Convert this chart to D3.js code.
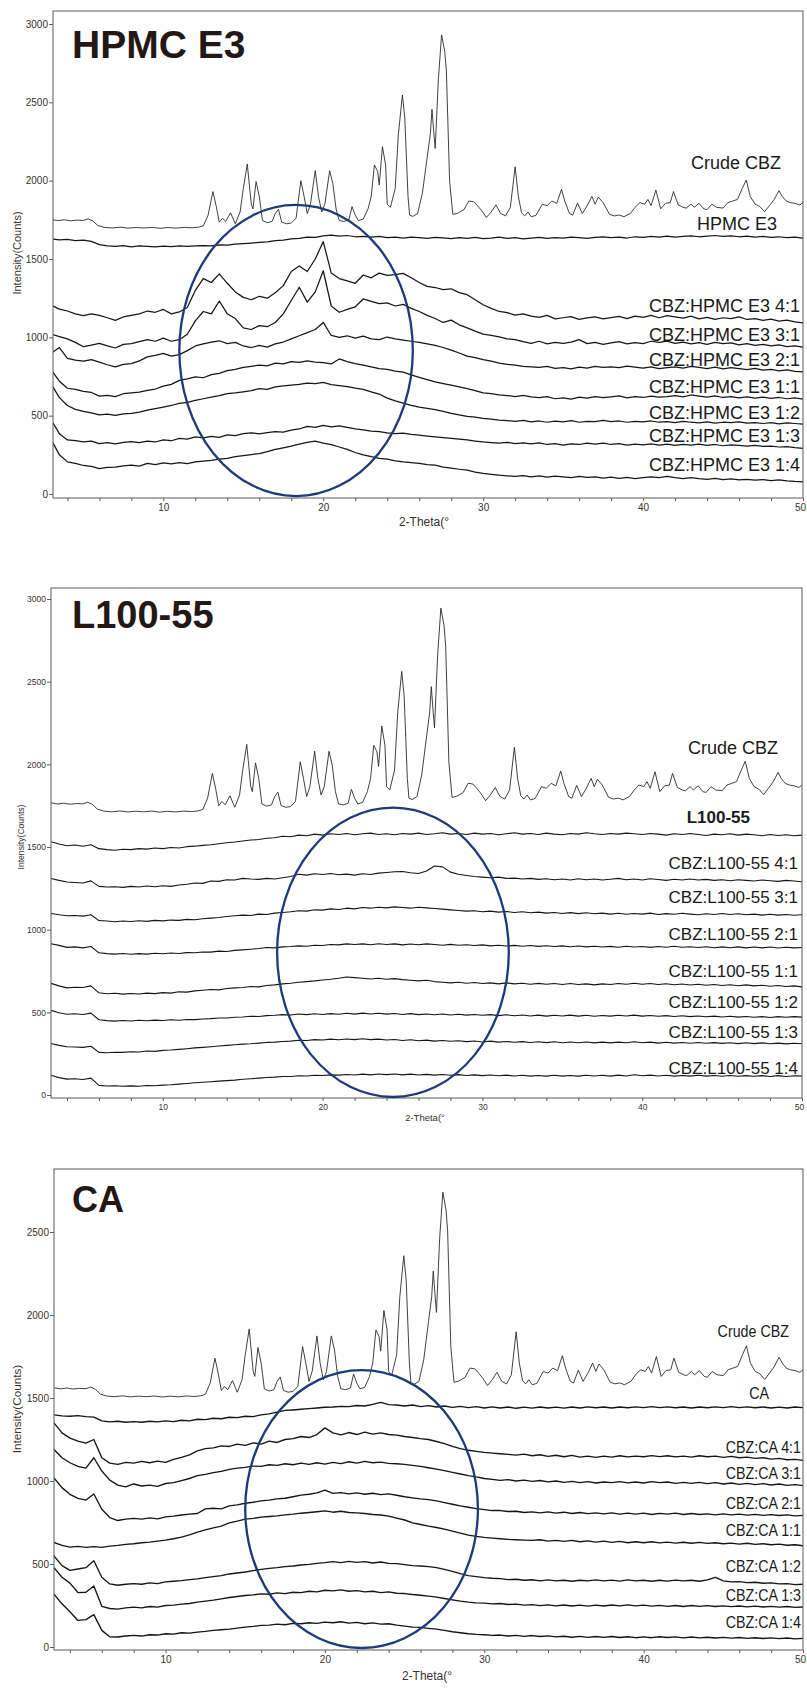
<!DOCTYPE html>
<html>
<head>
<meta charset="utf-8">
<script src="https://cdn.jsdelivr.net/npm/d3@7/dist/d3.min.js"></script>
<style>
  body { margin: 0; background: #fff; }
  svg { display: block; }
</style>
</head>
<body>
<div id="chart"></div>
<script>
// 2-theta sampling used for the amorphous traces (0.5 deg step)
const twoTheta = [
  3, 3.5, 4, 4.5, 5, 5.5, 6, 6.5, 7, 7.5, 8, 8.5, 9, 9.5, 10, 10.5, 11, 11.5, 12, 12.5,
  13, 13.5, 14, 14.5, 15, 15.5, 16, 16.5, 17, 17.5, 18, 18.5, 19, 19.5, 20, 20.5, 21, 21.5, 22, 22.5,
  23, 23.5, 24, 24.5, 25, 25.5, 26, 26.5, 27, 27.5, 28, 28.5, 29, 29.5, 30, 30.5, 31, 31.5, 32, 32.5,
  33, 33.5, 34, 34.5, 35, 35.5, 36, 36.5, 37, 37.5, 38, 38.5, 39, 39.5, 40, 40.5, 41, 41.5, 42, 42.5,
  43, 43.5, 44, 44.5, 45, 45.5, 46, 46.5, 47, 47.5, 48, 48.5, 49, 49.5, 50
];

// crude carbamazepine scan [2theta, counts], same scan in the three panels
const crudeCBZ = [
  [3.0,1752],[3.4,1745],[3.8,1750],[4.2,1744],[4.6,1748],[5.0,1746],[5.3,1756],[5.6,1742],[5.9,1714],
  [6.3,1702],[6.8,1698],[7.3,1703],[7.8,1697],[8.3,1701],[8.8,1698],[9.3,1702],[9.8,1696],[10.3,1701],
  [10.8,1697],[11.3,1702],[11.8,1699],[12.2,1703],[12.5,1712],[12.8,1780],[13.1,1930],[13.3,1840],
  [13.5,1735],[13.7,1760],[13.9,1740],[14.2,1795],[14.5,1725],[14.8,1800],[15.0,1950],[15.25,2106],
  [15.5,1850],[15.6,1820],[15.8,1994],[16.0,1900],[16.2,1745],[16.5,1732],[16.8,1740],[17.0,1790],
  [17.2,1817],[17.4,1735],[17.7,1725],[18.0,1730],[18.3,1760],[18.6,2000],[18.8,1900],[19.0,1790],
  [19.2,1850],[19.5,2064],[19.7,1900],[19.9,1800],[20.1,1850],[20.4,2064],[20.6,1980],[20.8,1820],
  [21.0,1745],[21.3,1740],[21.6,1750],[21.8,1834],[22.0,1780],[22.2,1745],[22.5,1755],[22.8,1820],
  [23.0,1900],[23.2,2100],[23.4,2060],[23.5,1972],[23.7,2217],[23.9,2100],[24.0,1850],[24.2,1830],
  [24.5,1950],[24.7,2300],[24.95,2547],[25.1,2400],[25.3,1900],[25.4,1780],[25.6,1772],[25.9,1790],
  [26.2,1920],[26.5,2150],[26.7,2300],[26.8,2455],[26.9,2323],[27.0,2206],[27.2,2650],[27.4,2930],
  [27.6,2823],[27.7,2700],[27.9,2000],[28.1,1785],[28.4,1792],[28.8,1815],[29.1,1870],[29.4,1866],
  [29.6,1845],[29.9,1810],[30.2,1765],[30.5,1800],[30.8,1845],[31.1,1790],[31.4,1775],[31.7,1830],
  [32.0,2089],[32.2,1900],[32.4,1795],[32.6,1775],[32.8,1800],[33.0,1770],[33.3,1778],[33.7,1850],
  [34.0,1840],[34.3,1870],[34.6,1855],[34.9,1945],[35.1,1870],[35.4,1790],[35.6,1780],[35.9,1858],
  [36.2,1790],[36.5,1840],[36.8,1900],[37.0,1850],[37.2,1895],[37.5,1860],[37.9,1785],[38.2,1775],
  [38.5,1781],[38.8,1770],[39.2,1790],[39.5,1830],[39.8,1860],[40.1,1850],[40.3,1880],[40.5,1840],
  [40.8,1940],[41.1,1820],[41.4,1855],[41.7,1860],[41.9,1930],[42.2,1845],[42.5,1830],[42.7,1825],
  [43.0,1850],[43.2,1830],[43.5,1855],[43.8,1820],[44.0,1815],[44.3,1850],[44.6,1830],[45.0,1825],
  [45.3,1860],[45.6,1870],[45.9,1880],[46.2,1950],[46.45,2004],[46.7,1900],[47.0,1850],[47.3,1835],
  [47.6,1802],[47.9,1840],[48.2,1880],[48.5,1936],[48.7,1900],[48.95,1870],[49.2,1860],[49.5,1855],
  [49.8,1845],[50.0,1860]
];

// ---- HPMC E3 panel ----
const hpmcE3 = [
  1628,1622,1625,1618,1620,1612,1592,1584,1580,1585, 1578,1583,1580,1577,1582,1579,1584,1580,1583,1586,
  1584,1590,1588,1595,1598,1602,1606,1610,1617,1620, 1628,1632,1640,1638,1648,1652,1646,1650,1642,1645,
  1640,1644,1636,1640,1634,1640,1636,1632,1638,1635, 1630,1636,1632,1638,1630,1634,1640,1632,1636,1628,
  1634,1638,1632,1637,1634,1640,1636,1632,1638,1641, 1636,1640,1634,1642,1638,1644,1640,1646,1640,1644,
  1648,1642,1646,1650,1644,1648,1642,1646,1640,1644, 1638,1642,1636,1640,1634
];
const cbzHpmc41 = [
  1205,1180,1168,1150,1138,1150,1140,1125,1108,1130, 1140,1150,1168,1160,1178,1150,1162,1190,1300,1375,
  1350,1405,1345,1290,1255,1240,1262,1250,1285,1330, 1420,1455,1420,1500,1611,1410,1375,1360,1345,1398,
  1380,1410,1395,1400,1408,1380,1350,1325,1318,1305, 1310,1285,1272,1240,1208,1185,1165,1158,1142,1150,
  1135,1128,1140,1118,1125,1132,1115,1124,1130,1118, 1126,1134,1120,1135,1128,1140,1125,1138,1130,1122,
  1135,1118,1128,1115,1125,1120,1130,1114,1120,1108, 1116,1104,1110,1098,1092
];
const cbzHpmc31 = [
  1020,1005,990,968,940,950,962,945,932,955, 960,972,985,975,995,975,985,1020,1105,1165,
  1150,1232,1150,1120,1060,1050,1075,1068,1095,1150, 1235,1320,1225,1290,1425,1200,1160,1178,1195,1245,
  1230,1215,1220,1200,1210,1185,1165,1140,1120,1095, 1110,1080,1060,1040,1020,1012,1003,990,985,972,
  962,975,958,968,962,970,985,960,968,955, 965,972,958,966,960,975,968,976,962,970,
  958,966,955,968,960,964,952,960,948,955, 945,952,940,946,938
];
const cbzHpmc21 = [
  900,935,865,855,848,858,842,825,812,828, 832,850,875,885,898,880,890,915,945,958,
  970,978,960,968,945,935,948,938,958,970, 990,1010,1030,1050,1095,1012,1000,1010,995,1008,
  990,985,1002,990,982,975,968,958,948,935, 918,900,880,870,858,848,835,828,822,815,
  812,808,815,802,806,798,810,804,815,808, 812,806,816,810,804,812,800,806,812,804,
  815,808,800,810,798,806,800,794,802,790, 796,786,792,782,780
];
const cbzHpmc11 = [
  790,720,675,668,655,648,625,630,622,640, 645,650,662,670,688,700,725,735,748,742,
  762,770,788,795,808,815,822,818,835,830, 845,840,850,842,838,830,862,845,832,822,
  812,800,795,785,778,760,745,730,716,705, 695,684,672,660,645,640,632,628,622,630,
  620,615,622,608,614,606,618,612,622,615, 620,626,614,622,616,625,618,622,628,620,
  632,625,618,626,616,622,614,620,612,618, 610,616,608,614,606
];
const cbzHpmc12 = [
  700,615,565,540,528,518,505,510,502,512, 515,522,535,545,555,565,578,585,598,608,
  618,628,640,645,652,660,672,668,684,690, 695,700,708,704,712,698,692,686,676,668,
  652,638,612,595,580,566,555,546,538,528, 515,505,495,490,482,478,472,468,464,470,
  460,466,458,465,460,468,458,464,462,470, 462,466,458,464,460,466,458,462,456,464,
  458,454,460,452,458,455,460,452,456,450, 455,448,454,450,446
];
const cbzHpmc13 = [
  470,385,345,340,332,338,322,328,320,330, 335,328,338,332,345,340,355,350,365,358,
  368,362,378,372,385,390,384,392,398,395, 408,415,432,425,438,428,435,425,415,410,
  402,398,390,386,388,380,376,370,365,360, 355,350,345,338,332,328,324,330,322,326,
  320,326,316,322,312,320,316,324,318,325, 316,322,312,318,314,320,312,318,310,316,
  312,318,310,316,308,314,310,306,310,304, 306,300,302,296,292
];
const cbzHpmc14 = [
  345,250,205,195,182,176,162,170,172,180, 185,178,195,188,198,192,200,194,205,210,
  215,222,228,238,245,252,258,270,285,295, 305,318,330,338,325,315,300,285,265,250,
  238,228,222,212,205,200,195,188,184,172, 165,158,152,140,132,126,120,116,112,118,
  110,116,108,114,110,104,112,106,110,102, 108,100,106,98,104,110,104,112,104,98,
  104,98,94,100,92,96,90,94,88,92, 86,90,84,80,78
];

// ---- L100-55 panel ----
const l10055 = [
  1532,1518,1508,1512,1505,1514,1490,1484,1480,1486, 1484,1490,1487,1494,1490,1497,1494,1502,1505,1510,
  1514,1520,1526,1530,1536,1542,1545,1553,1556,1565, 1562,1572,1568,1578,1572,1580,1576,1582,1574,1580,
  1584,1576,1580,1574,1582,1578,1584,1576,1580,1586, 1578,1582,1576,1584,1578,1582,1574,1580,1586,1578,
  1582,1576,1584,1578,1574,1582,1578,1586,1580,1576, 1582,1578,1584,1580,1576,1582,1578,1572,1580,1576,
  1582,1576,1570,1578,1574,1580,1572,1578,1574,1568, 1576,1570,1574,1568,1572
];
const cbzL41 = [
  1310,1298,1288,1285,1282,1295,1262,1258,1260,1256, 1262,1258,1264,1260,1266,1262,1270,1275,1282,1280,
  1294,1292,1302,1300,1310,1306,1304,1310,1306,1314, 1322,1335,1330,1338,1334,1340,1332,1336,1330,1338,
  1334,1342,1346,1350,1352,1344,1340,1355,1385,1380, 1348,1335,1328,1322,1318,1314,1318,1310,1312,1306,
  1310,1304,1308,1302,1306,1300,1308,1302,1306,1300, 1305,1310,1302,1306,1300,1308,1303,1298,1305,1300,
  1306,1300,1304,1298,1302,1296,1302,1298,1294,1300, 1296,1292,1298,1294,1290
];
const cbzL31 = [
  1098,1090,1084,1086,1082,1090,1055,1052,1048,1052, 1049,1054,1050,1056,1053,1058,1056,1062,1060,1066,
  1070,1074,1080,1084,1088,1086,1094,1092,1100,1104, 1108,1114,1112,1120,1118,1126,1122,1130,1126,1134,
  1130,1136,1132,1138,1134,1130,1136,1132,1128,1124, 1120,1116,1112,1114,1108,1112,1106,1110,1104,1108,
  1102,1106,1100,1104,1098,1103,1097,1102,1096,1100, 1094,1099,1093,1098,1094,1100,1092,1097,1093,1099,
  1094,1090,1096,1092,1098,1092,1096,1090,1094,1088, 1093,1088,1092,1087,1090
];
const cbzL21 = [
  915,905,893,896,890,898,860,855,852,856, 851,855,852,857,854,859,856,861,860,865,
  864,870,868,875,878,882,886,892,890,896, 898,902,900,906,904,910,908,914,910,914,
  909,915,910,914,908,913,909,914,910,906, 911,906,909,904,908,902,906,901,905,900,
  904,899,903,898,902,897,901,896,900,895, 899,894,900,895,898,893,898,894,900,894,
  897,892,897,891,896,891,896,890,895,890, 895,889,894,890,892
];
const cbzL11 = [
  675,660,648,652,650,660,618,612,615,610, 614,611,616,613,619,616,624,622,630,634,
  638,636,644,648,650,656,654,662,666,672, 676,682,686,690,696,700,706,714,710,706,
  702,706,700,704,698,694,690,694,686,682, 678,682,676,680,674,678,672,678,672,676,
  670,675,670,674,668,674,668,672,666,672, 668,674,670,676,670,674,668,673,667,671,
  665,670,664,668,662,667,661,666,660,664, 658,662,656,660,654
];
const cbzL12 = [
  512,498,488,491,487,495,455,450,447,451, 448,452,449,453,451,455,452,457,456,460,
  462,466,466,470,472,476,475,480,482,486, 484,490,486,491,487,492,488,494,489,495,
  490,494,489,493,487,492,486,490,485,490, 484,488,483,487,482,486,480,485,479,484,
  478,483,477,482,478,483,477,482,476,481, 477,482,478,483,477,481,476,480,475,479,
  474,478,473,477,472,476,471,475,470,474, 469,474,470,474,471
];
const cbzL13 = [
  312,300,292,290,288,295,258,256,259,258, 262,260,266,264,270,272,276,280,285,288,
  292,296,300,304,308,310,314,318,320,324, 326,331,330,335,333,338,334,339,335,340,
  335,338,333,336,330,334,328,332,326,330, 325,328,323,327,321,326,320,324,319,323,
  318,322,317,322,316,321,316,321,315,320, 315,320,316,322,316,320,314,319,314,318,
  313,318,313,317,312,316,311,316,311,315, 310,314,309,313,310
];
const cbzL14 = [
  120,105,96,98,94,102,58,54,56,53, 55,53,57,56,60,62,66,70,74,77,
  80,84,87,90,95,98,102,106,108,112, 112,116,115,119,118,122,120,124,121,126,
  122,127,123,127,122,126,121,125,120,124, 119,123,118,122,117,121,116,120,115,119,
  114,118,114,119,114,118,114,119,115,119, 114,120,115,122,116,120,115,119,114,118,
  114,119,114,118,113,118,113,117,113,117, 112,117,112,116,114
];

// ---- CA panel ----
const ca = [
  1398,1392,1390,1394,1388,1385,1362,1356,1360,1354, 1358,1354,1360,1356,1362,1358,1366,1362,1372,1370,
  1378,1375,1384,1382,1390,1388,1398,1404,1415,1425, 1428,1432,1436,1440,1444,1446,1450,1448,1455,1452,
  1462,1474,1460,1458,1452,1458,1448,1454,1446,1452, 1444,1450,1442,1448,1440,1447,1440,1446,1438,1445,
  1439,1446,1440,1445,1439,1446,1440,1447,1441,1446, 1440,1446,1441,1447,1442,1448,1442,1447,1441,1446,
  1440,1446,1441,1447,1442,1448,1442,1447,1441,1446, 1440,1445,1440,1446,1442
];
const cbzCa41 = [
  1350,1290,1258,1240,1228,1250,1140,1108,1100,1112, 1108,1118,1110,1120,1112,1130,1142,1158,1182,1195,
  1200,1212,1208,1222,1215,1230,1222,1240,1232,1250, 1255,1268,1262,1280,1320,1290,1278,1292,1280,1295,
  1282,1290,1280,1276,1268,1262,1255,1250,1238,1225, 1208,1195,1185,1178,1172,1168,1164,1160,1156,1162,
  1152,1158,1148,1155,1146,1154,1144,1150,1142,1150, 1144,1152,1145,1150,1146,1153,1147,1152,1145,1150,
  1144,1152,1146,1150,1142,1148,1140,1144,1136,1140, 1132,1136,1128,1130,1124
];
const cbzCa31 = [
  1190,1140,1110,1088,1078,1140,1060,1005,975,965, 982,970,975,968,985,990,1002,1015,1032,1040,
  1050,1058,1070,1078,1082,1090,1088,1098,1094,1104, 1098,1108,1100,1110,1102,1112,1105,1116,1108,1118,
  1110,1114,1106,1104,1100,1094,1088,1080,1072,1062, 1052,1042,1032,1025,1015,1010,1004,1008,1000,1005,
  998,1003,995,1000,992,998,990,996,988,994, 990,996,989,994,988,996,990,994,986,992,
  986,992,984,990,982,988,980,986,978,984, 976,982,974,978,972
];
const cbzCa21 = [
  1018,960,920,895,885,922,830,780,762,770, 775,770,778,772,784,788,795,800,804,832,
  836,832,850,856,866,872,880,885,892,896, 905,915,920,928,945,925,930,922,928,920,
  926,918,922,914,905,898,892,888,880,870, 860,850,842,834,828,822,822,816,818,810,
  814,808,814,806,812,804,810,803,808,802, 808,800,806,800,806,798,805,800,806,798,
  804,798,802,796,802,796,800,794,799,793, 797,792,796,790,793
];
const cbzCa11 = [
  630,612,602,606,600,605,600,608,612,618, 622,628,632,638,644,652,662,676,692,705,
  718,728,748,758,770,775,782,786,790,796, 800,806,810,815,820,812,818,810,808,804,
  798,795,788,776,765,748,738,728,720,710, 698,686,674,666,660,656,652,648,646,644,
  642,646,638,642,636,642,634,639,632,638, 630,636,628,634,628,634,627,632,626,631,
  625,630,624,628,622,626,620,625,618,622, 616,620,613,616,610
];
const cbzCa12 = [
  548,490,462,470,478,520,420,380,372,378, 382,378,386,382,392,396,400,406,410,418,
  424,430,440,446,452,460,468,474,478,484, 488,494,498,504,508,514,508,516,510,514,
  506,512,504,502,496,490,488,484,478,468, 455,442,430,424,418,414,412,406,408,402,
  405,398,404,398,402,396,402,398,404,398, 403,397,404,398,402,396,402,397,403,398,
  402,396,404,420,398,392,394,388,390,384, 386,380,382,376,378
];
const cbzCa13 = [
  478,420,385,328,330,368,245,232,228,236, 240,236,244,240,250,252,258,262,270,276,
  282,290,298,304,310,314,320,318,326,322, 330,328,336,332,342,338,344,336,340,332,
  336,328,332,324,322,316,312,306,300,292, 284,276,270,266,264,260,262,256,258,252,
  255,249,254,248,253,247,252,246,252,247, 253,248,254,248,252,246,251,245,250,244,
  250,245,249,244,248,243,247,242,246,241, 245,240,244,239,241
];
const cbzCa14 = [
  318,260,212,160,165,195,100,62,60,66, 70,66,74,72,80,78,86,84,90,94,
  100,104,108,114,120,124,130,132,138,134, 142,140,146,142,150,146,152,144,148,140,
  145,138,140,132,126,120,118,112,108,100, 92,86,80,76,74,70,72,66,70,64,
  69,63,67,61,65,59,64,58,63,58, 63,57,62,56,61,56,62,57,61,55,
  60,55,59,54,58,53,57,52,56,51, 55,50,54,49,52
];

// labels and ticks
const hpmcLabels = ["Crude CBZ", "HPMC E3", "CBZ:HPMC E3 4:1", "CBZ:HPMC E3 3:1", "CBZ:HPMC E3 2:1",
  "CBZ:HPMC E3 1:1", "CBZ:HPMC E3 1:2", "CBZ:HPMC E3 1:3", "CBZ:HPMC E3 1:4"];
const lLabels = ["Crude CBZ", "L100-55", "CBZ:L100-55 4:1", "CBZ:L100-55 3:1", "CBZ:L100-55 2:1",
  "CBZ:L100-55 1:1", "CBZ:L100-55 1:2", "CBZ:L100-55 1:3", "CBZ:L100-55 1:4"];
const caLabels = ["Crude CBZ", "CA", "CBZ:CA 4:1", "CBZ:CA 3:1", "CBZ:CA 2:1",
  "CBZ:CA 1:1", "CBZ:CA 1:2", "CBZ:CA 1:3", "CBZ:CA 1:4"];
const xTicks = [4, 6, 8, 10, 12, 14, 16, 18, 20, 22, 24, 26, 28, 30, 32, 34, 36, 38, 40, 42, 44, 46, 48, 50];
const xTickLabels = [10, 20, 30, 40, 50];
const yTicks3000 = [0, 500, 1000, 1500, 2000, 2500, 3000];
const yTicks2500 = [0, 500, 1000, 1500, 2000, 2500];
const panelTitles = ["HPMC E3", "L100-55", "CA"];
const crudeShift = [0, 15, -190];
// circled amorphous halo: centre and radii in (2theta, counts)
const halos = [
  { cx: 18.3, cy: 916, rx: 7.3, ry: 929 },
  { cx: 24.4, cy: 863, rx: 7.25, ry: 875 },
  { cx: 22.3, cy: 831, rx: 7.3, ry: 837 }
];

const width = 807;
const height = 1708;
const black = "#231815";
const sans = "'Liberation Sans', Arial, sans-serif";

const panels = [
  {
    series: [hpmcE3, cbzHpmc41, cbzHpmc31, cbzHpmc21, cbzHpmc11, cbzHpmc12, cbzHpmc13, cbzHpmc14],
    labels: hpmcLabels,
    box: { left: 53, top: 11, right: 803, bottom: 498 },
    xStart: 3.1, yRef: 3000, yZeroPx: 494, yRefPx: 24, yTicks: yTicks3000,
    tickFont: 10, yTitle: { x: 17, y: 253, size: 11 }, xTitle: { x: 424, y: 526, size: 12 },
    title: { y: 58, size: 39 },
    labelFont: 18, labelScale: 1, traceWidth: 1.25,
    labelPos: [[781, 169], [777, 230], [800, 312], [800, 341], [800, 366], [800, 393], [800, 419], [800, 442], [800, 471]],
    boldPolymer: false
  },
  {
    series: [l10055, cbzL41, cbzL31, cbzL21, cbzL11, cbzL12, cbzL13, cbzL14],
    labels: lLabels,
    box: { left: 51, top: 588, right: 802, bottom: 1098 },
    xStart: 3, yRef: 3000, yZeroPx: 1095, yRefPx: 599, yTicks: yTicks3000,
    tickFont: 8.5, yTitle: { x: 21, y: 837, size: 8.6 }, xTitle: { x: 425, y: 1121, size: 9.5 },
    title: { y: 628, size: 38 },
    labelFont: 17, labelScale: 1, traceWidth: 1.1,
    labelPos: [[778, 754], [750, 823], [798, 869], [798, 903], [798, 940], [798, 977], [798, 1008], [798, 1038], [798, 1074]],
    boldPolymer: true
  },
  {
    series: [ca, cbzCa41, cbzCa31, cbzCa21, cbzCa11, cbzCa12, cbzCa13, cbzCa14],
    labels: caLabels,
    box: { left: 54, top: 1169, right: 803, bottom: 1650 },
    xStart: 3, yRef: 2500, yZeroPx: 1647, yRefPx: 1232, yTicks: yTicks2500,
    tickFont: 10, yTitle: { x: 17, y: 1409, size: 11.7 }, xTitle: { x: 427, y: 1680, size: 12 },
    title: { y: 1212, size: 36 },
    labelFont: 17, labelScale: 0.84, traceWidth: 1.35,
    labelPos: [[789, 1337], [769, 1399], [801, 1453], [801, 1479], [801, 1509], [801, 1536], [801, 1572], [801, 1601], [801, 1628]],
    boldPolymer: false
  }
];

const svg = d3
  .select("#chart")
  .append("svg")
  .attr("width", width)
  .attr("height", height)
  .style("background", "#fff");

panels.forEach((p, i) => {
  const x = d3.scaleLinear().domain([p.xStart, 50]).range([p.box.left, p.box.right]);
  const y = d3.scaleLinear().domain([0, p.yRef]).range([p.yZeroPx, p.yRefPx]);
  const g = svg.append("g").attr("class", "panel-" + i);

  // clip the traces to the frame
  const clipId = "clip-" + i;
  svg.append("clipPath").attr("id", clipId)
    .append("rect")
    .attr("x", p.box.left)
    .attr("y", p.box.top)
    .attr("width", p.box.right - p.box.left)
    .attr("height", p.box.bottom - p.box.top);

  const line = d3.line().x((d) => x(d[0])).y((d) => y(d[1]));
  const traces = g.append("g").attr("clip-path", `url(#${clipId})`);

  traces.append("path")
    .datum(crudeCBZ.map((d) => [d[0], d[1] + crudeShift[i]]))
    .attr("fill", "none")
    .attr("stroke", "#2b2b2b")
    .attr("stroke-width", 0.9)
    .attr("d", line);

  traces.selectAll(".amorph")
    .data(p.series)
    .join("path")
    .attr("class", "amorph")
    .attr("fill", "none")
    .attr("stroke", "#151515")
    .attr("stroke-width", p.traceWidth)
    .attr("stroke-linejoin", "round")
    .attr("d", (s) => line(twoTheta.map((t, k) => [t, s[k]])));

  // frame
  g.append("rect")
    .attr("x", p.box.left)
    .attr("y", p.box.top)
    .attr("width", p.box.right - p.box.left)
    .attr("height", p.box.bottom - p.box.top)
    .attr("fill", "none")
    .attr("stroke", "#5a5a5a")
    .attr("stroke-width", 1);

  // axes
  const xAxis = d3.axisBottom(x)
    .tickValues(xTicks)
    .tickSize(3)
    .tickPadding(3)
    .tickFormat((d) => (xTickLabels.includes(d) ? d : ""));
  const gx = g.append("g")
    .attr("transform", `translate(0, ${p.box.bottom})`)
    .call(xAxis);
  const yAxis = d3.axisLeft(y)
    .tickValues(p.yTicks)
    .tickSize(4)
    .tickPadding(1)
    .tickFormat(d3.format("d"));
  const gy = g.append("g")
    .attr("transform", `translate(${p.box.left}, 0)`)
    .call(yAxis);
  [gx, gy].forEach((a) => {
    a.select(".domain").remove();
    a.selectAll(".tick line").attr("stroke", "#5a5a5a");
    a.selectAll(".tick text")
      .attr("fill", "#3a3230")
      .style("font-family", sans)
      .style("font-size", p.tickFont + "px");
  });
  // keep the last label inside the page
  gx.selectAll(".tick text").filter((d) => d === 50).attr("dx", -3);

  g.append("text")
    .attr("transform", `translate(${p.yTitle.x}, ${p.yTitle.y}) rotate(-90)`)
    .attr("dy", "0.35em")
    .attr("text-anchor", "middle")
    .attr("fill", "#3a3230")
    .style("font-family", sans)
    .style("font-size", p.yTitle.size + "px")
    .text("Intensity(Counts)");

  g.append("text")
    .attr("x", p.xTitle.x)
    .attr("y", p.xTitle.y)
    .attr("text-anchor", "middle")
    .attr("fill", "#3a3230")
    .style("font-family", sans)
    .style("font-size", p.xTitle.size + "px")
    .text("2-Theta(°");

  // big panel title
  g.append("text")
    .attr("x", 72)
    .attr("y", p.title.y)
    .attr("fill", black)
    .style("font-family", sans)
    .style("font-weight", "bold")
    .style("font-size", p.title.size + "px")
    .text(panelTitles[i]);

  // trace labels
  g.selectAll(".trace-label")
    .data(p.labels)
    .join("text")
    .attr("class", "trace-label")
    .attr("transform", (d, k) =>
      `translate(${p.labelPos[k][0]}, ${p.labelPos[k][1]}) scale(${p.labelScale}, 1)`)
    .attr("text-anchor", "end")
    .attr("fill", "#1a1a1a")
    .style("font-family", sans)
    .style("font-weight", (d, k) => (k === 1 && p.boldPolymer ? "bold" : "normal"))
    .style("font-size", (d, k) => (k === 0 && i === 1 ? 18 : p.labelFont) + "px")
    .text((d) => d);

  // halo ellipse
  const h = halos[i];
  g.append("ellipse")
    .attr("cx", x(h.cx))
    .attr("cy", y(h.cy))
    .attr("rx", x(h.cx + h.rx) - x(h.cx))
    .attr("ry", y(h.cy - h.ry) - y(h.cy))
    .attr("fill", "none")
    .attr("stroke", "#1d3a7a")
    .attr("stroke-width", 2.3);
});
</script>
</body>
</html>
